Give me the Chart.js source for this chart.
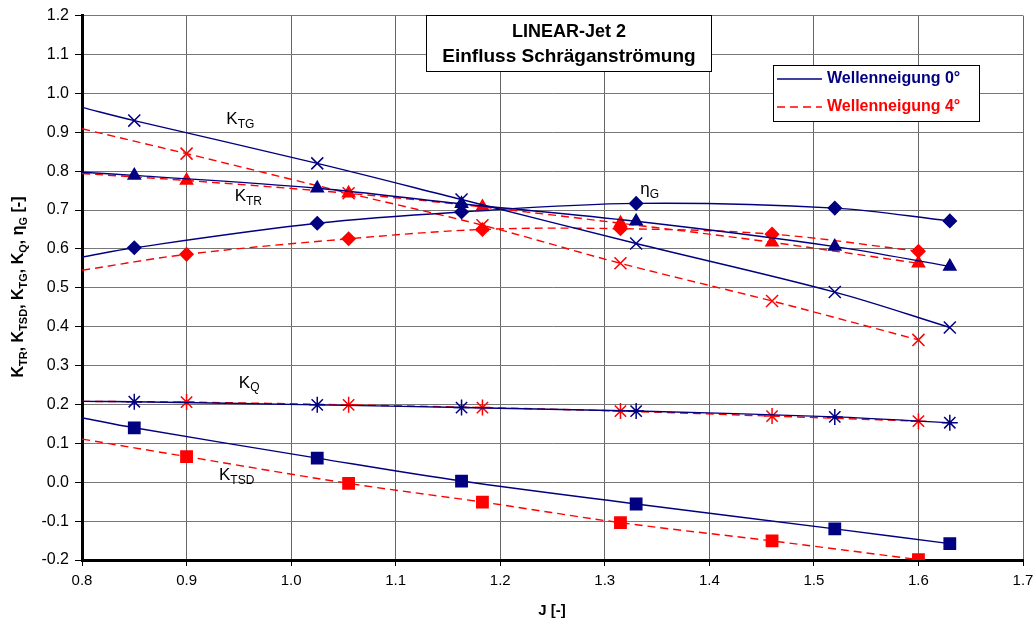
<!DOCTYPE html>
<html>
<head>
<meta charset="utf-8">
<script src="https://cdn.jsdelivr.net/npm/chart.js@4"></script>
<style>
    html, body { margin: 0; padding: 0; background: #fff; }
    #wrap { width: 1036px; height: 631px; }
</style>
</head>
<body>
<div id="wrap"><canvas id="chart" width="1036" height="631"></canvas></div>
<script>
// Advance ratios J (markers)
const J_0 = [0.85, 1.025, 1.163, 1.33, 1.52, 1.63];   // Wellenneigung 0°
const J_4 = [0.90, 1.055, 1.183, 1.315, 1.46, 1.60];  // Wellenneigung 4°

// Measured values, Wellenneigung 0°
const KTG_0  = [0.930, 0.820, 0.727, 0.614, 0.489, 0.398];
const KTR_0  = [0.789, 0.756, 0.716, 0.671, 0.606, 0.555];
const ETA_0  = [0.603, 0.666, 0.695, 0.717, 0.705, 0.672];
const KQ_0   = [0.207, 0.199, 0.192, 0.183, 0.168, 0.153];
const KTSD_0 = [0.140, 0.062, 0.003, -0.056, -0.120, -0.158];

// Measured values, Wellenneigung 4°
const KTG_4  = [0.845, 0.743, 0.661, 0.563, 0.466, 0.366];
const KTR_4  = [0.776, 0.743, 0.708, 0.666, 0.617, 0.563];
const ETA_4  = [0.586, 0.626, 0.650, 0.652, 0.638, 0.594];
const KQ_4   = [0.206, 0.199, 0.192, 0.183, 0.170, 0.157];
const KTSD_4 = [0.066, -0.003, -0.051, -0.104, -0.151, -0.199];

// Trend lines start at the left axis (J = 0.8); values read there
const J_START = 0.8;
const START_0 = [0.964, 0.797, 0.579, 0.208, 0.166];  // KTG, KTR, eta, KQ, KTSD
const START_4 = [0.909, 0.794, 0.545, 0.208, 0.111];

const X_TICKS = [0.8, 1.7, 0.1];    // min, max, step
const Y_TICKS = [-0.2, 1.2, 0.1];

const BLUE = '#000080';
const RED = '#ff0000';

function pts(js, vals, start) {
    const out = [{ x: J_START, y: start }];
    js.forEach((j, i) => out.push({ x: j, y: vals[i] }));
    return out;
}

function series(label, js, vals, start, color, dashed, style, radius) {
    return {
        label: label,
        data: pts(js, vals, start),
        showLine: true,
        borderColor: color,
        backgroundColor: color,
        borderWidth: 1.4,
        borderDash: dashed ? [8, 5] : [],
        tension: 0.35,
        pointStyle: style,
        pointRadius: (c) => c.dataIndex === 0 ? 0 : radius,
        pointBorderWidth: 1.5,
        pointBorderColor: color,
        pointBackgroundColor: color,
        fill: false
    };
}

const datasets = [
    series('KTG 0', J_0, KTG_0, START_0[0], BLUE, false, 'crossRot', 8.5),
    series('KTR 0', J_0, KTR_0, START_0[1], BLUE, false, 'triangle', 7),
    series('eta 0', J_0, ETA_0, START_0[2], BLUE, false, 'rectRot', 6.5),
    series('KQ 0', J_0, KQ_0, START_0[3], BLUE, false, 'star', 8),
    series('KTSD 0', J_0, KTSD_0, START_0[4], BLUE, false, 'rect', 8),
    series('KTG 4', J_4, KTG_4, START_4[0], RED, true, 'crossRot', 8.5),
    series('KTR 4', J_4, KTR_4, START_4[1], RED, true, 'triangle', 7),
    series('eta 4', J_4, ETA_4, START_4[2], RED, true, 'rectRot', 6.5),
    series('KQ 4', J_4, KQ_4, START_4[3], RED, true, 'star', 8),
    series('KTSD 4', J_4, KTSD_4, START_4[4], RED, true, 'rect', 8)
];

// curve labels: [main, subscript, J, value]
const CURVE_LABELS = [
    ['K', 'TG', 0.938, 0.933],
    ['K', 'TR', 0.946, 0.735],
    ['\u03b7', 'G', 1.334, 0.753],
    ['K', 'Q', 0.950, 0.255],
    ['K', 'TSD', 0.931, 0.018]
];

const FONT = '"Liberation Sans", Arial, sans-serif';

function drawSubText(ctx, x, y, parts, size, subSize, bold) {
    // parts: [[main, sub], ...], y is middle of main text
    const w = bold ? 'bold ' : '';
    let cx = x;
    parts.forEach(([m, s]) => {
        ctx.font = w + size + 'px ' + FONT;
        ctx.fillText(m, cx, y);
        cx += ctx.measureText(m).width;
        if (s) {
            ctx.font = w + subSize + 'px ' + FONT;
            ctx.fillText(s, cx, y + size * 0.3);
            cx += ctx.measureText(s).width;
        }
    });
    return cx - x;
}

function measureSub(ctx, parts, size, subSize, bold) {
    const w = bold ? 'bold ' : '';
    let t = 0;
    parts.forEach(([m, s]) => {
        ctx.font = w + size + 'px ' + FONT;
        t += ctx.measureText(m).width;
        if (s) {
            ctx.font = w + subSize + 'px ' + FONT;
            t += ctx.measureText(s).width;
        }
    });
    return t;
}

const fmt = (v) => (Math.abs(v) < 1e-9 ? 0 : v).toFixed(1);

const decorations = {
    id: 'decorations',
    afterDraw(chart) {
        const ctx = chart.ctx;
        const xs = chart.scales.x, ys = chart.scales.y;
        ctx.save();
        ctx.textBaseline = 'middle';
        ctx.textAlign = 'left';

        // curve labels
        ctx.fillStyle = '#000';
        CURVE_LABELS.forEach(([m, s, j, v]) => {
            drawSubText(ctx, xs.getPixelForValue(j), ys.getPixelForValue(v), [[m, s]], 17, 12, false);
        });

        // title box
        ctx.fillStyle = '#fff';
        ctx.fillRect(426, 15, 286, 57);
        ctx.strokeStyle = '#000';
        ctx.lineWidth = 1;
        ctx.strokeRect(426.5, 15.5, 285, 56);
        ctx.fillStyle = '#000';
        ctx.textAlign = 'center';
        ctx.font = 'bold 18px ' + FONT;
        ctx.fillText('LINEAR-Jet 2', 569, 32);
        ctx.font = 'bold 19px ' + FONT;
        ctx.fillText('Einfluss Schräganströmung', 569, 57);

        // legend
        ctx.fillStyle = '#fff';
        ctx.fillRect(773, 65, 207, 57);
        ctx.strokeStyle = '#000';
        ctx.strokeRect(773.5, 65.5, 206, 56);
        ctx.lineWidth = 1.4;
        ctx.strokeStyle = BLUE;
        ctx.beginPath(); ctx.moveTo(777, 79); ctx.lineTo(822, 79); ctx.stroke();
        ctx.strokeStyle = RED;
        ctx.setLineDash([8, 5]);
        ctx.beginPath(); ctx.moveTo(777, 107); ctx.lineTo(822, 107); ctx.stroke();
        ctx.setLineDash([]);
        ctx.textAlign = 'left';
        ctx.font = 'bold 16px ' + FONT;
        ctx.fillStyle = BLUE;
        ctx.fillText('Wellenneigung 0°', 827, 79);
        ctx.fillStyle = RED;
        ctx.fillText('Wellenneigung 4°', 827, 107);

        // axis titles
        ctx.fillStyle = '#000';
        ctx.textAlign = 'center';
        ctx.font = 'bold 15px ' + FONT;
        ctx.fillText('J [-]', 552, 611);

        const yParts = [['K', 'TR'], [', K', 'TSD'], [', K', 'TG'], [', K', 'Q'], [', \u03b7', 'G'], [' [-]', '']];
        ctx.textAlign = 'left';
        const tw = measureSub(ctx, yParts, 16, 11, true);
        ctx.translate(19, 287);
        ctx.rotate(-Math.PI / 2);
        drawSubText(ctx, -tw / 2, 0, yParts, 16, 11, true);
        ctx.restore();
    }
};

new Chart(document.getElementById('chart'), {
    type: 'scatter',
    data: { datasets: datasets },
    options: {
        responsive: false,
        animation: false,
        devicePixelRatio: 1,
        layout: { padding: { top: 15, right: 0, left: 0, bottom: 0 } },
        plugins: {
            legend: { display: false },
            tooltip: { enabled: false }
        },
        scales: {
            x: {
                type: 'linear',
                min: X_TICKS[0],
                max: X_TICKS[1],
                ticks: {
                    stepSize: X_TICKS[2],
                    color: '#000',
                    font: { size: 15, family: FONT },
                    padding: 6,
                    callback: fmt
                },
                grid: { color: '#666', lineWidth: 1, tickLength: 6, tickColor: '#000' },
                border: { color: '#000', width: 3 },
                afterFit: (s) => { s.height = 71; s.paddingRight = 13; s.paddingLeft = 0; }
            },
            y: {
                type: 'linear',
                min: Y_TICKS[0],
                max: Y_TICKS[1],
                ticks: {
                    stepSize: Y_TICKS[2],
                    color: '#000',
                    font: { size: 16, family: FONT },
                    padding: 6,
                    callback: fmt
                },
                grid: { color: '#777', lineWidth: 1, tickLength: 7, tickColor: '#000' },
                border: { color: '#000', width: 3 },
                afterFit: (s) => { s.width = 82; }
            }
        }
    },
    plugins: [decorations]
});
</script>
</body>
</html>
